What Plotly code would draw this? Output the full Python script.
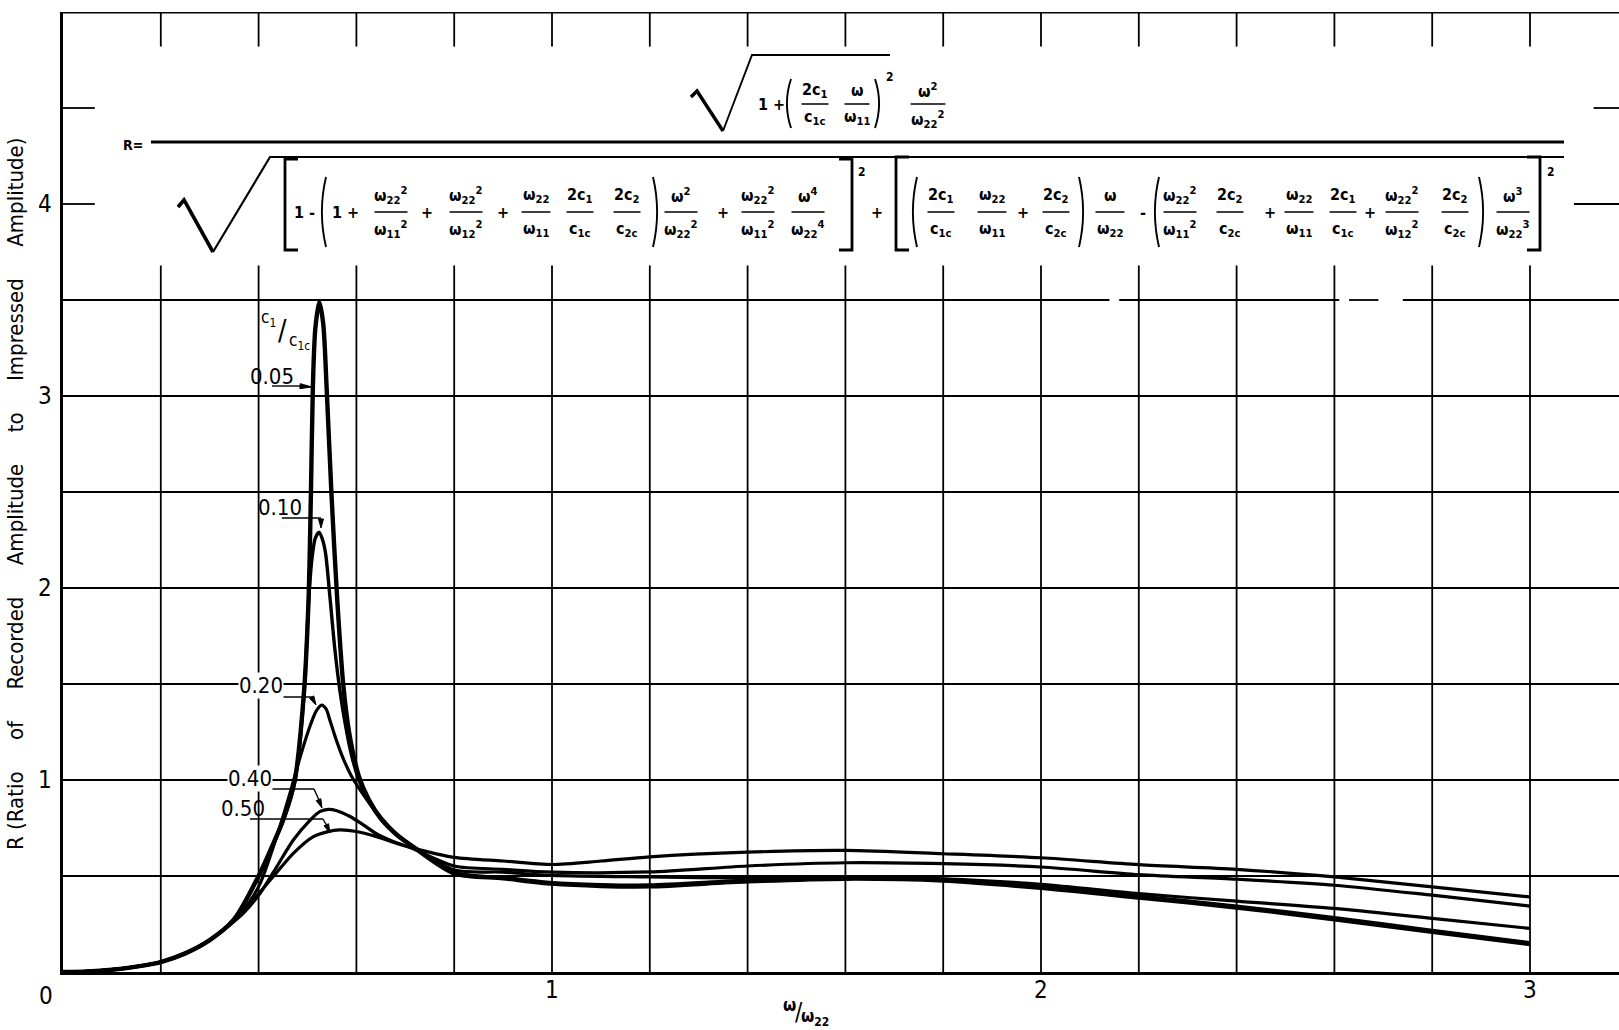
import plotly.graph_objects as go

# ---------------- data ----------------
X_005 = [0.0, 0.05, 0.10, 0.15, 0.20, 0.25, 0.30, 0.35, 0.40, 0.425, 0.45, 0.474, 0.493, 0.502, 0.507, 0.511,
         0.516, 0.524, 0.532, 0.539, 0.549, 0.561, 0.573, 0.585, 0.605, 0.625, 0.65, 0.68, 0.72, 0.80, 0.90,
         1.0, 1.1, 1.2, 1.4, 1.6, 1.8, 2.0, 2.2, 2.4, 2.6, 2.8, 3.0]
Y_005 = [0.0, 0.003, 0.012, 0.028, 0.052, 0.097, 0.166, 0.275, 0.50, 0.64, 0.79, 1.0, 1.465, 1.93, 2.49, 3.05,
         3.35, 3.49, 3.38, 3.05, 2.49, 1.93, 1.5, 1.25, 1.02, 0.9, 0.8, 0.72, 0.645, 0.514, 0.488,
         0.46, 0.448, 0.446, 0.472, 0.486, 0.476, 0.438, 0.388, 0.336, 0.275, 0.209, 0.145]

X_010 = [0.0, 0.05, 0.10, 0.15, 0.20, 0.25, 0.30, 0.35, 0.40, 0.425, 0.45, 0.474, 0.493, 0.502, 0.509, 0.516,
         0.524, 0.531, 0.537, 0.546, 0.556, 0.566, 0.578, 0.59, 0.605, 0.625, 0.65, 0.68, 0.72, 0.80, 0.90,
         1.0, 1.1, 1.2, 1.4, 1.6, 1.8, 2.0, 2.2, 2.4, 2.6, 2.8, 3.0]
Y_010 = [0.0, 0.003, 0.012, 0.028, 0.052, 0.097, 0.166, 0.273, 0.495, 0.635, 0.785, 0.99, 1.45, 1.92, 2.15, 2.26,
         2.29, 2.25, 2.18, 1.95, 1.68, 1.47, 1.28, 1.13, 1.0, 0.89, 0.795, 0.72, 0.646, 0.518, 0.492,
         0.465, 0.455, 0.453, 0.478, 0.492, 0.482, 0.445, 0.395, 0.343, 0.283, 0.217, 0.153]

X_020 = [0.0, 0.05, 0.10, 0.15, 0.20, 0.25, 0.30, 0.35, 0.38, 0.403, 0.437, 0.464, 0.485, 0.505, 0.518, 0.529,
         0.538, 0.546, 0.56, 0.575, 0.59, 0.61, 0.635, 0.662, 0.69, 0.716, 0.80, 0.90, 1.0, 1.2, 1.4, 1.6,
         1.8, 2.0, 2.2, 2.4, 2.6, 2.8, 3.0]
Y_020 = [0.0, 0.003, 0.012, 0.028, 0.052, 0.097, 0.166, 0.27, 0.36, 0.46, 0.705, 0.93, 1.12, 1.28, 1.36, 1.39,
         1.37, 1.31, 1.2, 1.1, 1.02, 0.94, 0.85, 0.77, 0.70, 0.652, 0.531, 0.52, 0.503, 0.495, 0.49, 0.495,
         0.485, 0.457, 0.408, 0.369, 0.331, 0.279, 0.227]

X_040 = [0.0, 0.05, 0.10, 0.15, 0.20, 0.25, 0.30, 0.335, 0.369, 0.403, 0.437, 0.471, 0.505, 0.525, 0.543, 0.56,
         0.587, 0.615, 0.641, 0.675, 0.71, 0.80, 0.90, 1.0, 1.2, 1.4, 1.6, 1.8, 2.0, 2.2, 2.4, 2.6, 2.8, 3.0]
Y_040 = [0.0, 0.003, 0.012, 0.028, 0.052, 0.097, 0.166, 0.232, 0.306, 0.41, 0.548, 0.6875, 0.79, 0.835, 0.847, 0.84,
         0.81, 0.765, 0.72, 0.68, 0.648, 0.552, 0.535, 0.52, 0.521, 0.552, 0.569, 0.564, 0.547, 0.507, 0.483,
         0.452, 0.40, 0.343]

X_050 = [0.0, 0.05, 0.10, 0.15, 0.20, 0.25, 0.30, 0.348, 0.389, 0.43, 0.471, 0.512, 0.54, 0.566, 0.60, 0.641,
         0.68, 0.716, 0.80, 0.90, 1.0, 1.1, 1.2, 1.4, 1.6, 1.8, 2.0, 2.2, 2.4, 2.6, 2.8, 3.0]
Y_050 = [0.0, 0.003, 0.012, 0.028, 0.052, 0.097, 0.166, 0.262, 0.375, 0.497, 0.618, 0.705, 0.73, 0.74, 0.732, 0.705,
         0.672, 0.645, 0.597, 0.578, 0.56, 0.578, 0.60, 0.624, 0.633, 0.616, 0.595, 0.559, 0.535, 0.495, 0.443,
         0.391]

SERIES = [("0.05", X_005, Y_005, 4.4), ("0.10", X_010, Y_010, 3.4), ("0.20", X_020, Y_020, 3.2),
          ("0.40", X_040, Y_040, 3.2), ("0.50", X_050, Y_050, 3.2)]

X_TICKS = [0, 1, 2, 3]
Y_TICKS = [1, 2, 3, 4]
X_GRID = [0.2, 0.4, 0.6, 0.8, 1.0, 1.2, 1.4, 1.6, 1.8, 2.0, 2.2, 2.4, 2.6, 2.8, 3.0]
Y_GRID = [0.5, 1.0, 1.5, 2.0, 2.5, 3.0]

# ---------------- figure geometry ----------------
W, H = 1619, 1030
L, R, T, B = 63, 0, 12, 58
XMAX = (W - L - R) / 489.0
YMAX = 5.0
FONT = "Liberation Sans Narrow, DejaVu Sans Condensed, Roboto Condensed, DejaVu Sans, sans-serif"


def px(x):
    return (x - L) / (W - L - R)


def py(y):
    return 1 - (y - T) / (H - T - B)


fig = go.Figure()
for name, xs, ys, lw in SERIES:
    fig.add_trace(go.Scatter(x=xs, y=ys, mode="lines", name=name,
                             line=dict(color="black", width=lw, shape="spline", smoothing=0.8),
                             hoverinfo="skip"))

shapes = []


def dline(x0, y0, x1, y1, w=1.8):
    shapes.append(dict(type="line", xref="x", yref="y", x0=x0, y0=y0, x1=x1, y1=y1,
                       line=dict(color="black", width=w), layer="below"))


def seg(x0, y0, x1, y1, w=1.4):
    shapes.append(dict(type="line", xref="paper", yref="paper", x0=px(x0), y0=py(y0), x1=px(x1), y1=py(y1),
                       line=dict(color="black", width=w)))


def path(pts, w=1.5, fill=None, closed=False):
    d = "M " + " L ".join(f"{px(a):.5f},{py(b):.5f}" for a, b in pts)
    if closed:
        d += " Z"
    shapes.append(dict(type="path", xref="paper", yref="paper", path=d,
                       line=dict(color="black", width=w), fillcolor=fill if fill else "rgba(0,0,0,0)"))


def paren(x, y0, y1, left=True, w=1.9):
    bulge = -7 if left else 7
    xe = x + (4 if left else -4)
    ym = (y0 + y1) / 2
    d = f"M {px(xe):.5f},{py(y0):.5f} Q {px(x + bulge * 0.6):.5f},{py(ym):.5f} {px(xe):.5f},{py(y1):.5f}"
    shapes.append(dict(type="path", xref="paper", yref="paper", path=d,
                       line=dict(color="black", width=w), fillcolor="rgba(0,0,0,0)"))


def bracket(x, y0, y1, left=True, w=2.8):
    s = 13 if left else -13
    path([(x + s, y0), (x, y0), (x, y1), (x + s, y1)], w=w)


def text(x, y, s, size=15, weight="bold", bg=None, angle=0, anchor="center"):
    kw = {}
    if bg:
        kw["bgcolor"] = bg
    fig.add_annotation(x=px(x), y=py(y), xref="paper", yref="paper", text=s, showarrow=False,
                       font=dict(family=FONT, size=size, color="black", weight=weight),
                       xanchor=anchor, yanchor="middle", textangle=angle, borderpad=0, **kw)


FS = 16


def frac(cx, num, den, yn, yb, yd, w, size=FS):
    text(cx, yn, num, size)
    seg(cx - w / 2, yb, cx + w / 2, yb, 1.5)
    text(cx, yd, den, size)


def arrowhead(tip, frm, ln=9, wd=5):
    dx, dy = tip[0] - frm[0], tip[1] - frm[1]
    n = (dx * dx + dy * dy) ** 0.5
    ux, uy = dx / n, dy / n
    bx, by = tip[0] - ux * ln, tip[1] - uy * ln
    path([tip, (bx - uy * wd / 2, by + ux * wd / 2), (bx + uy * wd / 2, by - ux * wd / 2)], w=1, fill="black",
         closed=True)


# ---------------- grid ----------------
for gx in X_GRID:
    dline(gx, 0, gx, 3.68)
    dline(gx, YMAX, gx, 4.82)
for gy in Y_GRID:
    dline(0, gy, XMAX, gy)
dline(0, 3.5, 2.14, 3.5)
dline(2.16, 3.5, 2.61, 3.5)
dline(2.63, 3.5, 2.69, 3.5)
dline(2.74, 3.5, XMAX, 3.5)
dline(0, 4.0, 0.065, 4.0)
dline(3.09, 4.0, XMAX, 4.0)
dline(0, 4.5, 0.065, 4.5)
dline(3.13, 4.5, XMAX, 4.5)
dline(0, YMAX, XMAX, YMAX, 3)

# ---------------- formula ----------------
# numerator
path([(691, 97), (697, 91), (723, 131)], w=3.4)
path([(723, 131), (752, 55), (890, 55)], w=1.9)
text(771, 104, "1 +", FS)
paren(787, 79, 128, True)
frac(815, "2c<sub>1</sub>", "c<sub>1c</sub>", 90, 104, 118, 27)
frac(857, "ω", "ω<sub>11</sub>", 90, 104, 118, 25)
paren(879, 79, 128, False)
text(890, 77, "2", 12)
frac(928, "ω<sup>2</sup>", "ω<sub>22</sub><sup>2</sup>", 90, 104, 119, 35)

# main fraction bar
text(133, 145, "R=", 14)
seg(151, 142, 1564, 142, 3)

# denominator
path([(178, 207), (184, 200), (213, 252)], w=3.6)
path([(213, 252), (270, 157), (1564, 157)], w=2.2)
YN, YB, YD = 195, 212, 230
bracket(285, 159, 250, True)
text(304, YB, "1 -", FS)
paren(322, 177, 247, True)
text(345, YB, "1 +", FS)
frac(391, "ω<sub>22</sub><sup>2</sup>", "ω<sub>11</sub><sup>2</sup>", YN, YB, YD, 33)
text(427, YB, "+", FS)
frac(466, "ω<sub>22</sub><sup>2</sup>", "ω<sub>12</sub><sup>2</sup>", YN, YB, YD, 33)
text(503, YB, "+", FS)
frac(536, "ω<sub>22</sub>", "ω<sub>11</sub>", YN, YB, YD, 29)
frac(580, "2c<sub>1</sub>", "c<sub>1c</sub>", YN, YB, YD, 27)
frac(627, "2c<sub>2</sub>", "c<sub>2c</sub>", YN, YB, YD, 27)
paren(657, 177, 247, False)
frac(681, "ω<sup>2</sup>", "ω<sub>22</sub><sup>2</sup>", YN, YB, YD, 33)
text(723, YB, "+", FS)
frac(758, "ω<sub>22</sub><sup>2</sup>", "ω<sub>11</sub><sup>2</sup>", YN, YB, YD, 33)
frac(808, "ω<sup>4</sup>", "ω<sub>22</sub><sup>4</sup>", YN, YB, YD, 33)
bracket(852, 159, 250, False)
text(862, 172, "2", 12)
text(877, YB, "+", FS)
bracket(896, 157, 250, True)
paren(913, 177, 247, True)
frac(941, "2c<sub>1</sub>", "c<sub>1c</sub>", YN, YB, YD, 27)
frac(992, "ω<sub>22</sub>", "ω<sub>11</sub>", YN, YB, YD, 29)
text(1023, YB, "+", FS)
frac(1056, "2c<sub>2</sub>", "c<sub>2c</sub>", YN, YB, YD, 27)
paren(1083, 177, 247, False)
frac(1110, "ω", "ω<sub>22</sub>", YN, YB, YD, 29)
text(1143, YB, "-", FS)
paren(1155, 177, 247, True)
frac(1180, "ω<sub>22</sub><sup>2</sup>", "ω<sub>11</sub><sup>2</sup>", YN, YB, YD, 33)
frac(1230, "2c<sub>2</sub>", "c<sub>2c</sub>", YN, YB, YD, 27)
text(1270, YB, "+", FS)
frac(1299, "ω<sub>22</sub>", "ω<sub>11</sub>", YN, YB, YD, 29)
frac(1343, "2c<sub>1</sub>", "c<sub>1c</sub>", YN, YB, YD, 27)
text(1370, YB, "+", FS)
frac(1402, "ω<sub>22</sub><sup>2</sup>", "ω<sub>12</sub><sup>2</sup>", YN, YB, YD, 33)
frac(1455, "2c<sub>2</sub>", "c<sub>2c</sub>", YN, YB, YD, 27)
paren(1483, 177, 247, False)
frac(1513, "ω<sup>3</sup>", "ω<sub>22</sub><sup>3</sup>", YN, YB, YD, 33)
bracket(1540, 157, 250, False)
text(1551, 172, "2", 12)

# ---------------- curve labels & leaders ----------------
text(268, 318, "c<sub>1</sub>", 17, weight="normal")
text(282, 330, "/", 28, weight="normal")
text(299, 341, "c<sub>1c</sub>", 17, weight="normal")

text(272, 376, "0.05", 22, weight="normal")
seg(272, 386, 300, 386)
arrowhead((312, 387), (298, 386), ln=12, wd=5)

text(280, 507, "0.10", 22, weight="normal")
seg(282, 518, 321, 518)
arrowhead((321, 528), (321, 518), ln=9, wd=5)

text(261, 685, "0.20", 22, weight="normal", bg="white")
seg(266, 697, 312, 697)
arrowhead((316, 705), (311, 696), ln=9, wd=5)

text(250, 778, "0.40", 22, weight="normal", bg="white")
seg(253, 789, 314, 789)
seg(314, 789, 319, 800)
arrowhead((322, 808), (317, 796), ln=9, wd=5)

text(243, 808, "0.50", 22, weight="normal")
seg(250, 819, 323, 819)
seg(323, 819, 327, 826)
arrowhead((330, 833), (325, 822), ln=9, wd=5)

# ---------------- tick labels & axis titles ----------------
text(46, 996, "0", 24, weight="normal")
for v in Y_TICKS:
    text(45, 972 - v * 192, str(v), 24, weight="normal")
for v in X_TICKS[1:]:
    text(63 + v * 489, 990, str(v), 24, weight="normal")

text(789, 1005, "ω", 17)
text(799, 1012, "/", 24, weight="normal")
text(815, 1017, "ω<sub>22</sub>", 17)

SP = "\u00a0" * 5
YTITLE = SP.join(["R\u00a0(Ratio", "of", "Recorded", "Amplitude", "to", "Impressed", "Amplitude)"])
text(15, 494, YTITLE, 22, weight="normal", angle=-90)

fig.update_layout(
    width=W, height=H, margin=dict(l=L, r=R, t=T, b=B, pad=0),
    paper_bgcolor="white", plot_bgcolor="white", showlegend=False,
    shapes=shapes,
    xaxis=dict(range=[0, XMAX], showgrid=False, zeroline=False, showticklabels=False, ticks="",
               showline=True, linecolor="black", linewidth=3, fixedrange=True),
    yaxis=dict(range=[0, YMAX], showgrid=False, zeroline=False, showticklabels=False, ticks="",
               showline=True, linecolor="black", linewidth=3, fixedrange=True),
)

fig.write_html("out.html", config={"displayModeBar": False},
               post_script="document.body.style.margin='0px';document.body.style.overflow='hidden';")
